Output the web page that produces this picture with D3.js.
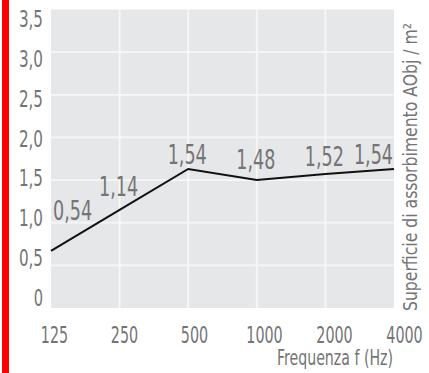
<!DOCTYPE html>
<html><head><meta charset="utf-8">
<script src="https://cdn.jsdelivr.net/npm/d3@7"></script>
<style>
html,body{margin:0;padding:0;background:#fff;}
text{font-family:'Liberation Sans Narrow','DejaVu Sans Condensed','DejaVu Sans',sans-serif;fill:#747477;}
</style></head>
<body>
<svg id="c" width="429" height="373"></svg>
<script>
const frequencies = ["125","250","500","1000","2000","4000"];
const valueLabels = [0.54, 1.14, 1.54, 1.48, 1.52, 1.54];
const plottedValues = [0.67, 1.15, 1.63, 1.50, 1.57, 1.63];
const yTicks = [0, 0.5, 1.0, 1.5, 2.0, 2.5, 3.0, 3.5];
const xTitle = "Frequenza f (Hz)";
const yTitle = "Superficie di assorbimento AObj / m²";

const svg = d3.select("#c");
const fmt = d => d === 0 ? "0" : d3.format(".1f")(d).replace(".", ",");
const fmt2 = d => d3.format(".2f")(d).replace(".", ",");
const lenOf = (s, dw, cw) => { let L = 0; for (const ch of s) L += (ch === "," ? cw : dw); return L; };

// red side bar
svg.append("rect").attr("x", 2).attr("y", 0).attr("width", 7).attr("height", 373).attr("fill", "#ff0000");

const x = d3.scalePoint().domain(frequencies).range([51, 394]);
const y = d3.scaleLinear().domain([0, 3.5]).range([308, 9.5]);
const yLab = d3.scaleLinear().domain([0, 3.5]).range([297, 18.5]);
const xLab = d3.scalePoint().domain(frequencies).range([54, 404]);

// plot background
svg.append("rect").attr("x", x.range()[0]).attr("y", y(3.5))
  .attr("width", x.range()[1] - x.range()[0]).attr("height", y(0) - y(3.5)).attr("fill", "#e6e7e8");

// grid
svg.append("g").selectAll("line").data(yTicks.filter(d => d > 0 && d < 3.5)).join("line")
  .attr("x1", x.range()[0]).attr("x2", x.range()[1]).attr("y1", d => y(d)).attr("y2", d => y(d))
  .attr("stroke", "#f7f7f7").attr("stroke-width", 1.8);
svg.append("g").selectAll("line").data(frequencies.slice(1, -1)).join("line")
  .attr("x1", d => x(d)).attr("x2", d => x(d)).attr("y1", y(3.5)).attr("y2", y(0))
  .attr("stroke", "#f7f7f7").attr("stroke-width", 1.8);

// y axis labels
const gy = svg.append("g").attr("transform", "translate(43,0)")
  .call(d3.axisLeft(yLab).tickValues(yTicks).tickFormat(fmt).tickSize(0).tickPadding(0));
gy.select(".domain").remove();
gy.selectAll("text").attr("font-size", 23).attr("dy", "0.36em")
  .attr("fill", "#747477").style("font-family", null)
  .attr("textLength", function() { return lenOf(this.textContent, 9.3, 5.5); })
  .attr("lengthAdjust", "spacingAndGlyphs");

// x axis labels
const gx = svg.append("g").attr("transform", "translate(0,326)")
  .call(d3.axisBottom(xLab).tickSize(0).tickPadding(0));
gx.select(".domain").remove();
gx.selectAll("text").attr("font-size", 23).attr("dy", "0.73em")
  .attr("fill", "#747477").style("font-family", null)
  .attr("textLength", function() { return lenOf(this.textContent, 9.1, 5.5); })
  .attr("lengthAdjust", "spacingAndGlyphs");

// line
const line = d3.line().x((d, i) => x(frequencies[i])).y(d => y(d));
svg.append("path").datum(plottedValues).attr("d", line)
  .attr("fill", "none").attr("stroke", "#111").attr("stroke-width", 2).attr("stroke-linejoin", "miter");

// value labels
const n = valueLabels.length;
svg.append("g").selectAll("text").data(valueLabels).join("text")
  .attr("x", (d, i) => i === 0 ? x(frequencies[i]) + 2 : i === n - 1 ? x(frequencies[i]) - 1 : x(frequencies[i]) - 1)
  .attr("y", (d, i) => i === 0 ? yLab(d) - 34 : yLab(d) - 10)
  .attr("text-anchor", (d, i) => i === 0 ? "start" : i === n - 1 ? "end" : "middle")
  .attr("font-size", 27)
  .attr("textLength", d => lenOf(fmt2(d), 11.2, 5.5))
  .attr("lengthAdjust", "spacingAndGlyphs")
  .text(fmt2);

// x title
svg.append("text").attr("x", 393).attr("y", 365).attr("text-anchor", "end")
  .attr("font-size", 22).attr("textLength", 116).attr("lengthAdjust", "spacingAndGlyphs")
  .text(xTitle);

// y title
svg.append("text").attr("transform", "translate(417,167) rotate(-90)").attr("text-anchor", "middle")
  .attr("font-size", 19).attr("textLength", 288).attr("lengthAdjust", "spacingAndGlyphs")
  .text(yTitle);
</script>
</body></html>
